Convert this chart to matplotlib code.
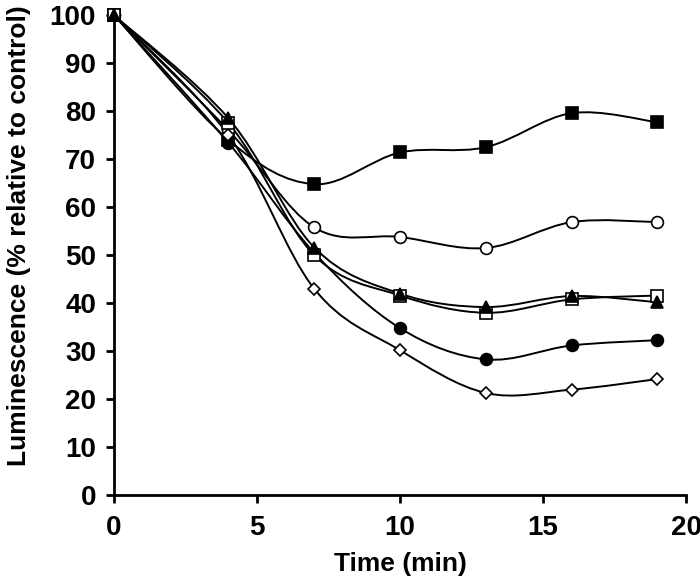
import matplotlib
matplotlib.use("Agg")
import matplotlib.pyplot as plt
from matplotlib.path import Path
from matplotlib.patches import PathPatch
import numpy as np

plt.rcParams['font.family'] = ['Liberation Sans', 'DejaVu Sans']
plt.rcParams['font.weight'] = 'bold'

time_min = [0, 4, 7, 10, 13, 16, 19]
filled_square = [100, 74, 64.8, 71.4, 72.5, 79.6, 77.7]
open_circle = [100, 76, 55.8, 53.8, 51.5, 56.9, 56.9]
filled_triangle = [100, 78.5, 51.6, 42.0, 39.2, 41.5, 40.2]
open_square = [100, 77.5, 50.0, 41.6, 38.0, 40.8, 41.6]
filled_circle = [100, 73.4, 50.5, 34.8, 28.3, 31.2, 32.3]
open_diamond = [100, 75, 43.0, 30.2, 21.3, 22.0, 24.2]

series = [
    (filled_square, 's', 'black', 8.5),
    (open_circle, 'o', 'white', 8.5),
    (filled_circle, 'o', 'black', 8.5),
    (open_diamond, 'D', 'white', 6),
    (open_square, 's', 'white', 8.5),
    (filled_triangle, '^', 'black', 8.5),
]

fig = plt.figure(figsize=(7, 5.84), dpi=100)
ax = fig.add_axes([0.163, 0.152, 0.817, 0.822])


def smooth_path(xs, ys):
    pts = np.column_stack([xs, ys]).astype(float)
    n = len(pts)
    verts = [pts[0]]
    codes = [Path.MOVETO]
    for i in range(n - 1):
        p0 = pts[i - 1] if i > 0 else pts[i]
        p1 = pts[i]
        p2 = pts[i + 1]
        p3 = pts[i + 2] if i + 2 < n else pts[i + 1]
        c1 = p1 + (p2 - p0) / 6.0
        c2 = p2 - (p3 - p1) / 6.0
        verts += [c1, c2, p2]
        codes += [Path.CURVE4] * 3
    return Path(verts, codes)


for ys, m, fc, ms in series:
    ax.add_patch(PathPatch(smooth_path(time_min, ys), facecolor='none',
                           edgecolor='black', lw=1.4, zorder=2))
for ys, m, fc, ms in series:
    ax.plot(time_min, ys, linestyle='none', marker=m, markerfacecolor=fc,
            markeredgecolor='black', markeredgewidth=1.2, markersize=ms,
            zorder=3, clip_on=False)

ax.set_xlim(0, 20)
ax.set_ylim(0, 100)
ax.set_xticks([0, 5, 10, 15, 20])
ax.set_yticks(range(0, 101, 10))
for s in ['top', 'right']:
    ax.spines[s].set_visible(False)
for s in ['left', 'bottom']:
    ax.spines[s].set_linewidth(2)
ax.tick_params(direction='out', length=6, width=2, labelsize=20)
ax.tick_params(axis='y', pad=7)
ax.tick_params(axis='x', pad=8)
for lab in ax.get_xticklabels() + ax.get_yticklabels():
    lab.set_fontweight('bold')
ax.set_xlabel('Time (min)', fontsize=19, fontweight='bold')
ax.set_ylabel('Luminescence (% relative to control)', fontsize=19,
              fontweight='bold')
ax.xaxis.set_label_coords(0.5, -0.118)
ax.yaxis.set_label_coords(-0.145, 0.54)

fig.savefig('out.png', dpi=100)
